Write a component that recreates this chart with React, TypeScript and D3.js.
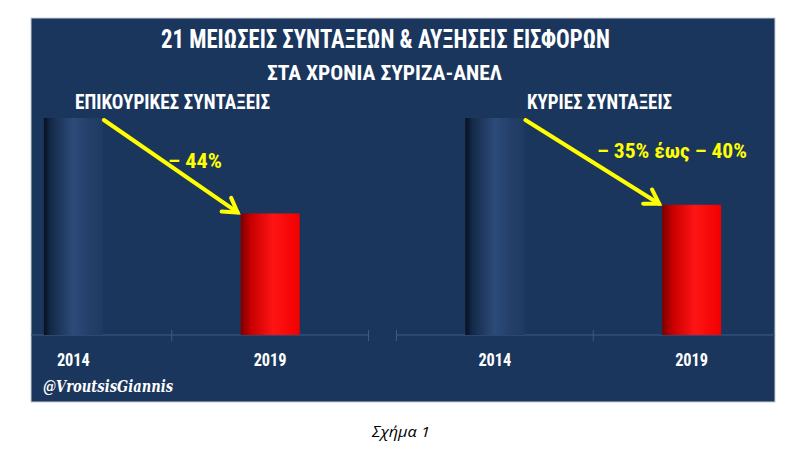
import * as React from "react";
import * as d3 from "d3";

// data (2014 = 100)
const years = ["2014", "2019"];
const auxValues = [100, 56];
const mainValues = [100, 60];
const auxLabel = "ΕΠΙΚΟΥΡΙΚΕΣ ΣΥΝΤΑΞΕΙΣ";
const mainLabel = "ΚΥΡΙΕΣ ΣΥΝΤΑΞΕΙΣ";
const auxChange = "– 44%";
const mainChange = "– 35% έως – 40%";
const titleLines = [
  "21 ΜΕΙΩΣΕΙΣ ΣΥΝΤΑΞΕΩΝ & ΑΥΞΗΣΕΙΣ ΕΙΣΦΟΡΩΝ",
  "ΣΤΑ ΧΡΟΝΙΑ ΣΥΡΙΖΑ-ΑΝΕΛ"
];

const W = 800;
const H = 451;
const panel = { x: 31, y: 18, w: 744, h: 384 };
const NAVY = "#1a365d";
const YELLOW = "#ffff00";
const FONT = "'Liberation Sans Narrow', 'Roboto Condensed', 'Open Sans', sans-serif";

const y = d3.scaleLinear().domain([0, 100]).range([335, 118]);

interface PanelProps {
  range: [number, number];
  values: number[];
  label: string;
  labelX: number;
  labelW: number;
  change: string;
  changeX: number;
  changeY: number;
  changeW: number;
}

function MiniChart(props: PanelProps) {
  const { range, values, label, labelX, labelW, change, changeX, changeY, changeW } = props;
  const x = d3
    .scaleBand()
    .domain(years)
    .range(range)
    .paddingInner(0.7)
    .paddingOuter(0.35);
  const bw = x.bandwidth();
  const step = x.step();
  const ticks = [range[0], ...years.map(yr => (x(yr) as number) + bw / 2 + step / 2)];

  // arrow from top-right of first bar to top-left of second bar
  const x0 = (x(years[0]) as number) + bw + 1;
  const y0 = y(values[0]) + 2;
  const x1 = (x(years[1]) as number) - 3;
  const y1 = y(values[1]) - 1;
  const ang = Math.atan2(y1 - y0, x1 - x0);
  const head = 16;
  const spread = 0.55;
  const hx1 = x1 - head * Math.cos(ang - spread);
  const hy1 = y1 - head * Math.sin(ang - spread);
  const hx2 = x1 - head * Math.cos(ang + spread);
  const hy2 = y1 - head * Math.sin(ang + spread);

  return (
    <g>
      <line x1={range[0]} x2={range[1]} y1={y(0)} y2={y(0)} stroke="#3d5a86" strokeWidth={1} />
      {ticks.map((t, i) => (
        <line key={i} x1={t} x2={t} y1={y(0) - 5} y2={y(0) + 6} stroke="#3d5a86" strokeWidth={1} />
      ))}
      {years.map((yr, i) => (
        <rect
          key={yr}
          x={x(yr)}
          y={y(values[i])}
          width={bw}
          height={y(0) - y(values[i])}
          fill={i === 0 ? "url(#gradBlue)" : "url(#gradRed)"}
        />
      ))}
      {years.map(yr => (
        <text
          key={yr}
          x={(x(yr) as number) + bw / 2}
          y={366}
          textAnchor="middle"
          fill="#ffffff"
          fontFamily={FONT}
          fontWeight="bold"
          fontSize={18}
          textLength={33}
          lengthAdjust="spacingAndGlyphs"
        >
          {yr}
        </text>
      ))}
      <text
        x={labelX}
        y={109}
        fill="#ffffff"
        fontFamily={FONT}
        fontWeight="bold"
        fontSize={20}
        textLength={labelW}
        lengthAdjust="spacingAndGlyphs"
      >
        {label}
      </text>
      <g stroke={YELLOW} strokeWidth={4} strokeLinecap="round" fill="none">
        <line x1={x0} y1={y0} x2={x1} y2={y1} />
        <polyline points={`${hx1},${hy1} ${x1},${y1} ${hx2},${hy2}`} strokeLinejoin="miter" />
      </g>
      <text
        x={changeX}
        y={changeY}
        fill={YELLOW}
        fontFamily={FONT}
        fontWeight="bold"
        fontSize={21}
        textLength={changeW}
        lengthAdjust="spacingAndGlyphs"
      >
        {change}
      </text>
    </g>
  );
}

export default function App() {
  return (
    <svg
      width={W}
      height={H}
      style={{ position: "absolute", left: 0, top: 0, background: "#ffffff" }}
    >
      <defs>
        <linearGradient id="gradBlue" x1="0" x2="1" y1="0" y2="0">
          <stop offset="0%" stopColor="#07101f" />
          <stop offset="12%" stopColor="#142a4a" />
          <stop offset="50%" stopColor="#2d4b79" />
          <stop offset="75%" stopColor="#24406a" />
          <stop offset="100%" stopColor="#1f3a62" />
        </linearGradient>
        <linearGradient id="gradRed" x1="0" x2="1" y1="0" y2="0">
          <stop offset="0%" stopColor="#7a0000" />
          <stop offset="18%" stopColor="#c80000" />
          <stop offset="55%" stopColor="#ff1414" />
          <stop offset="100%" stopColor="#f20000" />
        </linearGradient>
        <clipPath id="panelClip">
          <rect x={panel.x} y={panel.y} width={panel.w} height={panel.h} />
        </clipPath>
      </defs>
      <rect
        x={panel.x}
        y={panel.y}
        width={panel.w}
        height={panel.h}
        fill={NAVY}
        stroke="#c9cdd3"
        strokeWidth={1}
      />
      <g clipPath="url(#panelClip)">
        <text
          x={161}
          y={48}
          fill="#ffffff"
          fontFamily={FONT}
          fontWeight="bold"
          fontSize={25}
          textLength={449}
          lengthAdjust="spacingAndGlyphs"
        >
          {titleLines[0]}
        </text>
        <text
          x={267}
          y={80}
          fill="#ffffff"
          fontFamily={FONT}
          fontWeight="bold"
          fontSize={21}
          textLength={235}
          lengthAdjust="spacingAndGlyphs"
        >
          {titleLines[1]}
        </text>
        <MiniChart
          range={[-25, 368.5]}
          values={auxValues}
          label={auxLabel}
          labelX={75}
          labelW={195}
          change={auxChange}
          changeX={168}
          changeY={168}
          changeW={54}
        />
        <MiniChart
          range={[396.5, 790]}
          values={mainValues}
          label={mainLabel}
          labelX={527}
          labelW={145}
          change={mainChange}
          changeX={597}
          changeY={158}
          changeW={150}
        />
        <text
          x={43}
          y={392}
          fill="#ffffff"
          fontFamily="'DejaVu Serif', 'Liberation Serif', serif"
          fontWeight="bold"
          fontStyle="italic"
          fontSize={16}
          textLength={130}
          lengthAdjust="spacingAndGlyphs"
        >
          @VroutsisGiannis
        </text>
      </g>
      <text
        x={401}
        y={437}
        textAnchor="middle"
        fill="#000000"
        fontFamily="'Open Sans', 'Liberation Sans', sans-serif"
        fontStyle="italic"
        fontSize={15}
        textLength={58}
        lengthAdjust="spacingAndGlyphs"
      >
        Σχήμα 1
      </text>
    </svg>
  );
}
